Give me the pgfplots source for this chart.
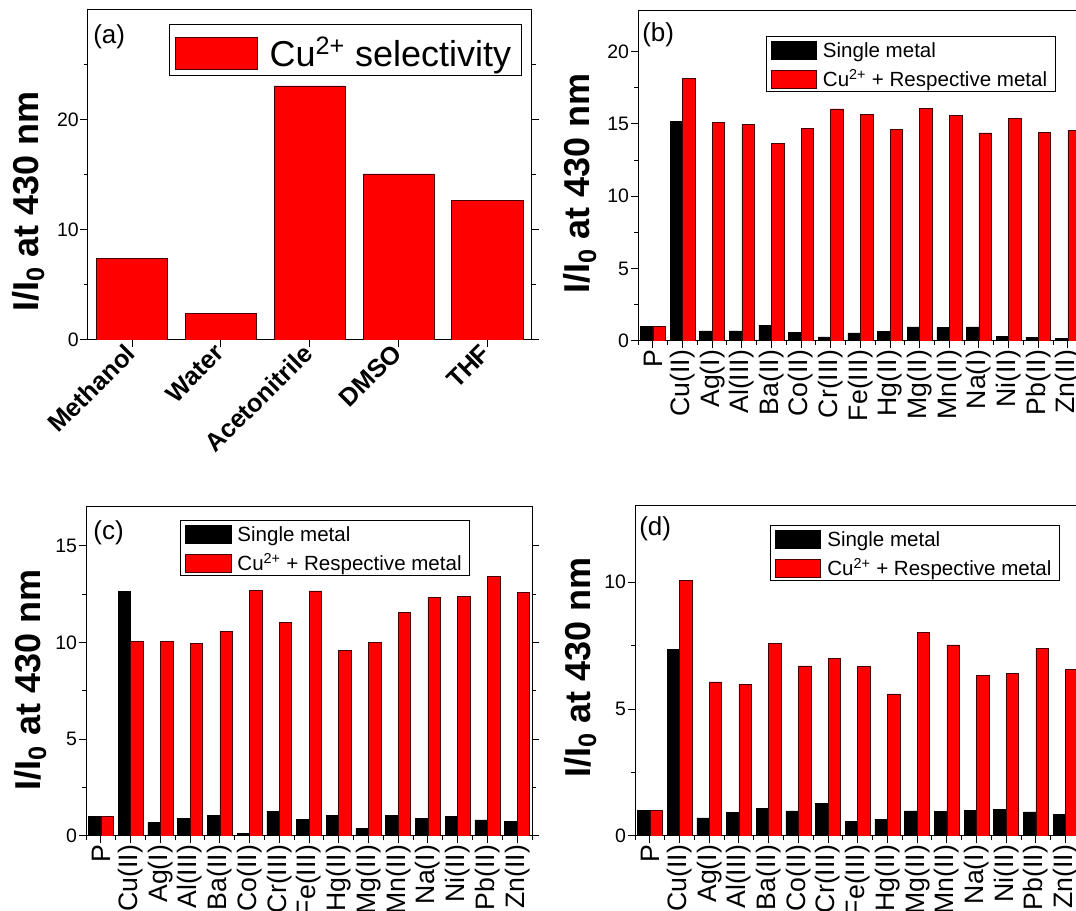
\documentclass[border=0pt]{standalone}
\usepackage{fontspec}
\setmainfont{Liberation Sans}
\usepackage{pgfplots}
\pgfplotsset{compat=1.18}
\definecolor{barborder}{RGB}{70,0,0}
\pgfplotsset{
  panel/.style={
    scale only axis, anchor=south west,
    ymin=0,
    axis line style={line width=0.75pt},
    tick style={line width=0.75pt, black},
    major tick length=5.5pt, minor tick length=3pt,
    tick align=outside,
    xtick pos=bottom, ytick pos=both, yticklabel pos=left,
    /pgf/number format/assume math mode=true,
    yticklabel style={font=\fontsize{14.6}{17}\selectfont, inner sep=1pt},
    legend cell align=left,
    ylabel style={rotate=0, anchor=base, font=\bfseries\fontsize{27}{32}\selectfont},
  },
  metals/.style={
    xmin=-0.5, xmax=14.5,
    xtick={0,...,14},
    minor xtick={-0.5,0.5,...,14.5},
    xticklabels={P,Cu(II),Ag(I),Al(III),Ba(II),Co(II),Cr(III),Fe(III),Hg(II),Mg(II),Mn(II),Na(I),Ni(II),Pb(II),Zn(II)},
    xticklabel style={rotate=90, anchor=east, font=\fontsize{20}{24}\selectfont, inner sep=1pt},
    minor y tick num=1,
    legend style={draw=black, line width=0.6pt, anchor=north west,
      inner xsep=3.5pt, inner ysep=0.5pt, row sep=3.75pt, column sep=2.5pt,
      font=\fontsize{15.4}{18}\selectfont,
      nodes={inner xsep=2.3pt, inner ysep=0.5pt, text height=14.5pt, text depth=2.75pt}},
  },
  single/.style={ybar, bar width=0.42, bar shift=-0.21, fill=black, draw=black, line width=0.4pt,
    legend image code/.code={\draw[fill=black,draw=black,line width=0.4pt] (0pt,-7.1pt) rectangle (34pt,6.1pt);}},
  mixed/.style={ybar, bar width=0.42, bar shift=0.21, fill=red, draw=barborder, line width=0.4pt,
    legend image code/.code={\draw[fill=red,draw=barborder,line width=0.4pt] (0pt,-7.1pt) rectangle (34pt,6.1pt);}},
}
\begin{document}
\begin{tikzpicture}
\useasboundingbox (0,0) rectangle (807pt,683.25pt);
\clip (0,0) rectangle (807pt,683.25pt);

% (a)
\begin{axis}[panel, at={(65.8pt,428.25pt)}, width=333pt, height=247.5pt,
  xmin=0.5, xmax=5.5, ymax=30,
  xtick={1,...,5}, xticklabels={Methanol,Water,Acetonitrile,DMSO,THF},
  xticklabel style={rotate=45, anchor=east, font=\bfseries\fontsize{19}{22}\selectfont, inner sep=1.5pt},
  ytick={0,10,20}, minor ytick={5,15,25},
  ylabel={I/I\textsubscript{0} at 430 nm},
  ylabel style={at={(axis description cs:-0.112,0.42)}},
  legend style={at={(0.182,0.958)}, anchor=north west, draw=black, line width=0.6pt,
    inner xsep=4.5pt, inner ysep=0.75pt, column sep=6pt,
    font=\fontsize{27}{32}\selectfont,
    nodes={inner xsep=3pt, inner ysep=0.75pt, text height=30.5pt, text depth=4.7pt}},
]
\addplot[ybar, bar width=0.8, fill=red, draw=barborder, line width=0.5pt,
  legend image code/.code={\draw[fill=red,draw=barborder,line width=0.5pt] (0pt,-14.6pt) rectangle (61.5pt,9.4pt);}]
  coordinates {(1,7.4) (2,2.42) (3,23.1) (4,15.1) (5,12.67)};
\addlegendentry{Cu\textsuperscript{2+} selectivity}
\node[anchor=north west, inner sep=0pt, font=\fontsize{19.5}{23}\selectfont] at (rel axis cs:0.012,0.955) {(a)};
\end{axis}

% (b)
\begin{axis}[panel, metals, at={(478.5pt,427.5pt)}, width=333.56pt, height=247.5pt,
  ymax=22.8, ytick={0,5,10,15,20},
  ylabel={I/I\textsubscript{0} at 430 nm},
  ylabel style={at={(axis description cs:-0.108,0.477)}},
  legend style={at={(0.287,0.924)}},
]
\addplot[single] coordinates {(0,1.0) (1,15.15) (2,0.7) (3,0.7) (4,1.1) (5,0.58) (6,0.28) (7,0.56) (8,0.68) (9,0.98) (10,0.93) (11,0.98) (12,0.33) (13,0.23) (14,0.16)};
\addlegendentry{Single metal}
\addplot[mixed] coordinates {(0,1.0) (1,18.13) (2,15.1) (3,14.98) (4,13.63) (5,14.7) (6,16.03) (7,15.68) (8,14.6) (9,16.08) (10,15.57) (11,14.38) (12,15.4) (13,14.42) (14,14.56)};
\addlegendentry{Cu\textsuperscript{2+} + Respective metal}
\node[anchor=north west, inner sep=0pt, font=\fontsize{19.5}{23}\selectfont] at (rel axis cs:0.009,0.966) {(b)};
\end{axis}

% (c)
\begin{axis}[panel, metals, at={(64.5pt,56.25pt)}, width=334.5pt, height=246.75pt,
  ymax=17, ytick={0,5,10,15},
  ylabel={I/I\textsubscript{0} at 430 nm},
  ylabel style={at={(axis description cs:-0.103,0.474)}},
  legend style={at={(0.211,0.960)}},
]
\addplot[single] coordinates {(0,1.0) (1,12.62) (2,0.69) (3,0.91) (4,1.08) (5,0.14) (6,1.29) (7,0.86) (8,1.07) (9,0.38) (10,1.08) (11,0.93) (12,1.03) (13,0.83) (14,0.76)};
\addlegendentry{Single metal}
\addplot[mixed] coordinates {(0,1.0) (1,10.07) (2,10.04) (3,9.95) (4,10.59) (5,12.69) (6,11.02) (7,12.67) (8,9.59) (9,10.02) (10,11.54) (11,12.33) (12,12.4) (13,13.4) (14,12.57)};
\addlegendentry{Cu\textsuperscript{2+} + Respective metal}
\node[anchor=north west, inner sep=0pt, font=\fontsize{19.5}{23}\selectfont] at (rel axis cs:0.016,0.960) {(c)};
\end{axis}

% (d)
\begin{axis}[panel, metals, at={(476.25pt,56.25pt)}, width=334.1pt, height=247.5pt,
  ymax=13, ytick={0,5,10},
  ylabel={I/I\textsubscript{0} at 430 nm},
  ylabel style={at={(axis description cs:-0.101,0.511)}},
  legend style={at={(0.303,0.942)}},
]
\addplot[single] coordinates {(0,1.01) (1,7.36) (2,0.71) (3,0.92) (4,1.09) (5,0.99) (6,1.29) (7,0.58) (8,0.66) (9,0.99) (10,0.96) (11,1.0) (12,1.04) (13,0.95) (14,0.85)};
\addlegendentry{Single metal}
\addplot[mixed] coordinates {(0,1.01) (1,10.07) (2,6.07) (3,5.97) (4,7.58) (5,6.70) (6,7.0) (7,6.68) (8,5.6) (9,8.03) (10,7.53) (11,6.32) (12,6.4) (13,7.4) (14,6.56)};
\addlegendentry{Cu\textsuperscript{2+} + Respective metal}
\node[anchor=north west, inner sep=0pt, font=\fontsize{19.5}{23}\selectfont] at (rel axis cs:0.009,0.967) {(d)};
\end{axis}
\end{tikzpicture}
\end{document}
